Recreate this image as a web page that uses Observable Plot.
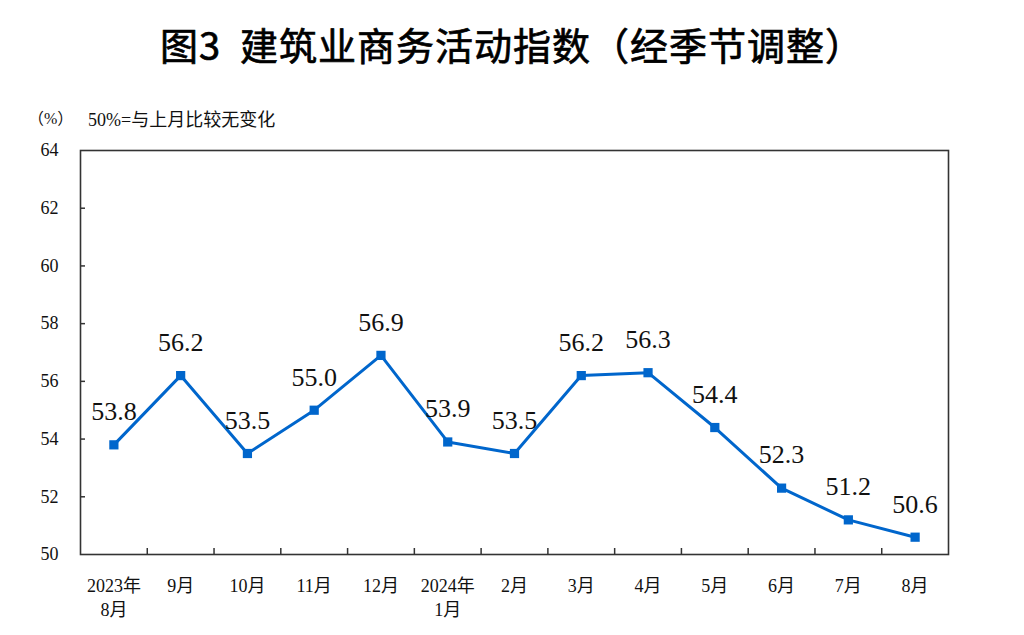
<!DOCTYPE html>
<html>
<head>
<meta charset="utf-8">
<script src="https://cdn.jsdelivr.net/npm/d3@7"></script>
<script src="https://cdn.jsdelivr.net/npm/@observablehq/plot@0.6"></script>
<style>
  body { margin: 0; background: #fff; width: 1024px; height: 635px; overflow: hidden; }
  #header { position: relative; width: 1024px; height: 100px; }
  #title { position: absolute; left: 0; width: 1024px; top: 21px; text-align: center;
    font-family: "Noto Sans CJK SC", sans-serif; font-weight: 400; -webkit-text-stroke: 0.7px #000;
    font-size: 38px; letter-spacing: 1px; line-height: 46px; color: #000; }
  #unit { position: absolute; left: 28px; top: 105px; font-family: "Liberation Serif", "Noto Sans CJK SC", serif; font-size: 16px; color: #111; white-space: pre; }
  #note { position: absolute; left: 88px; top: 105px; font-family: "Liberation Serif", "Noto Sans CJK SC", serif; font-size: 18px; color: #111; white-space: pre; }
  svg text { font-family: "Liberation Serif", "Noto Sans CJK SC", serif; }
</style>
</head>
<body>
<div id="header">
  <div id="title">图3&nbsp;&nbsp;建筑业商务活动指数（经季节调整）</div>
</div>
<div id="unit" style="z-index:2">（%）</div>
<div id="note" style="z-index:2">50%=与上月比较无变化</div>
<div id="chart"></div>
<script>
const months = ["2023年\n8月", "9月", "10月", "11月", "12月", "2024年\n1月", "2月", "3月", "4月", "5月", "6月", "7月", "8月"];
const values = [53.8, 56.2, 53.5, 55.0, 56.9, 53.9, 53.5, 56.2, 56.3, 54.4, 52.3, 51.2, 50.6];
const yTicks = [50, 52, 54, 56, 58, 60, 62, 64];

const data = values.map((v, i) => ({i, v, label: v.toFixed(1)}));
const idx = d3.range(months.length);
const boundaries = idx.slice(1).map(i => i - 0.5);
const serif = '"Liberation Serif", "Noto Sans CJK SC", serif';

const chart = Plot.plot({
  width: 1024,
  height: 535,
  marginTop: 50,
  marginBottom: 81,
  marginLeft: 80,
  marginRight: 76,
  style: {fontFamily: serif, color: "#111", background: "#fff"},
  x: {domain: [-0.5, months.length - 0.5], label: null},
  y: {domain: [50, 64], label: null},
  marks: [
    Plot.axisY({ticks: yTicks, tickSize: 0, tickPadding: 22, fontSize: 18, fontFamily: serif, label: null, tickFormat: d => String(d)}),
    Plot.axisY({ticks: yTicks.slice(1, -1), tickSize: -5, stroke: "#333", strokeWidth: 1.5, text: null, label: null}),
    Plot.axisX({ticks: idx, tickSize: 0, tickPadding: 20, fontSize: 18, lineHeight: 1.35, fontFamily: serif, label: null, tickFormat: i => months[i]}),
    Plot.axisX({ticks: boundaries, tickSize: -6, stroke: "#333", strokeWidth: 1.5, text: null, label: null}),
    Plot.frame({stroke: "#333", strokeWidth: 1.6}),
    Plot.line(data, {x: "i", y: "v", stroke: "#0066cc", strokeWidth: 3}),
    Plot.dot(data, {x: "i", y: "v", symbol: "square", r: 5.2, fill: "#0066cc", stroke: "none"}),
    Plot.text(data, {x: "i", y: "v", text: "label", dy: -33, fontSize: 26, fill: "#111", fontFamily: serif})
  ]
});
document.getElementById("chart").appendChild(chart);
</script>
</body>
</html>
